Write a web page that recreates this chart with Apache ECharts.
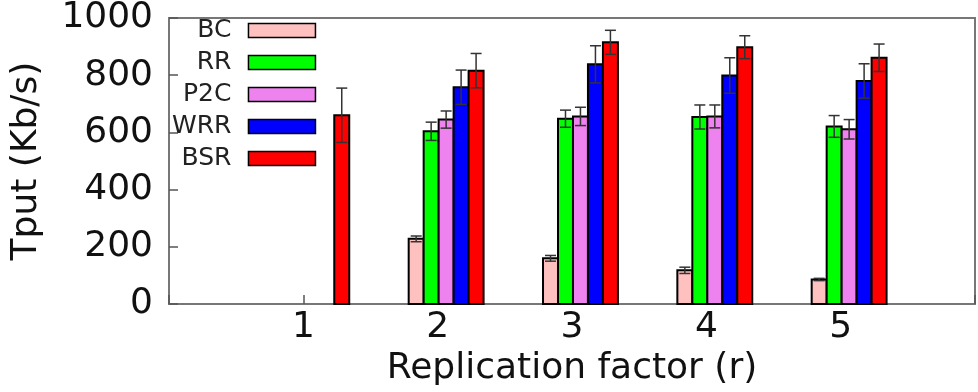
<!DOCTYPE html>
<html>
<head>
<meta charset="utf-8">
<script src="https://cdn.jsdelivr.net/npm/echarts@6/dist/echarts.min.js"></script>
<style>
html,body{margin:0;padding:0;background:#fff;}
#chart{width:978px;height:392px;}
</style>
</head>
<body>
<div id="chart"></div>
<script>
// Replication factor categories
const categories = [1, 2, 3, 4, 5];
const seriesNames = ['BC', 'RR', 'P2C', 'WRR', 'BSR'];
// Throughput means (Kb/s)
const BC  = [null, 228, 160, 118, 86];
const RR  = [null, 604, 648, 654, 621];
const P2C = [null, 645, 656, 656, 611];
const WRR = [null, 758, 838, 799, 780];
const BSR = [660, 816, 915, 898, 861];
// Error bar half-widths (Kb/s)
const BC_err  = [null, 10, 10, 11, 4];
const RR_err  = [null, 32, 30, 42, 38];
const P2C_err = [null, 30, 32, 40, 34];
const WRR_err = [null, 60, 65, 62, 60];
const BSR_err = [95, 60, 42, 40, 48];
// Y tick labels
const yTicks = [0, 200, 400, 600, 800, 1000];

const values = [BC, RR, P2C, WRR, BSR];
const errors = [BC_err, RR_err, P2C_err, WRR_err, BSR_err];
const colors = ['#ffc0c0', '#00ff00', '#ee82ee', '#0000ff', '#ff0000'];
const barW = 0.1115;
const offsets = seriesNames.map((_, j) => -0.16 + j * barW);
const FONT = 'DejaVu Sans';

const series = [];
seriesNames.forEach((name, j) => {
  const data = categories.map((c, i) => [c, values[j][i], errors[j][i]]).filter(d => d[1] != null);
  series.push({
    name: name,
    type: 'custom',
    itemStyle: {color: colors[j]},
    encode: {x: 0, y: 1},
    data: data,
    renderItem: function (params, api) {
      const x = api.value(0) + offsets[j];
      const v = api.value(1);
      const top = api.coord([x, v]);
      const base = api.coord([x, 0]);
      const w = api.size([barW, 0])[0];
      return {
        type: 'rect',
        shape: {x: top[0] - w / 2, y: top[1], width: w, height: base[1] - top[1]},
        style: {fill: colors[j], stroke: '#000', lineWidth: 2}
      };
    },
    z: 2
  });
  series.push({
    name: name + '_err',
    type: 'custom',
    encode: {x: 0, y: 1},
    data: data,
    renderItem: function (params, api) {
      const x = api.value(0) + offsets[j];
      const v = api.value(1);
      const e = api.value(2);
      const hi = api.coord([x, v + e]);
      const lo = api.coord([x, v - e]);
      const cw = 5.5;
      const st = {stroke: '#333', lineWidth: 1.5};
      return {
        type: 'group',
        children: [
          {type: 'line', shape: {x1: hi[0], y1: hi[1], x2: lo[0], y2: lo[1]}, style: st},
          {type: 'line', shape: {x1: hi[0] - cw, y1: hi[1], x2: hi[0] + cw, y2: hi[1]}, style: st},
          {type: 'line', shape: {x1: lo[0] - cw, y1: lo[1], x2: lo[0] + cw, y2: lo[1]}, style: st}
        ]
      };
    },
    z: 3
  });
});

const chart = echarts.init(document.getElementById('chart'), null, {renderer: 'canvas'});
chart.setOption({
  animation: false,
  backgroundColor: '#fff',
  textStyle: {fontFamily: FONT},
  grid: {left: 169, right: 2, top: 15, bottom: 84, show: true, borderColor: '#777', borderWidth: 2, backgroundColor: 'transparent'},
  legend: {
    data: seriesNames.map((n, j) => ({name: n, icon: 'rect', itemStyle: {color: colors[j], borderColor: '#000', borderWidth: 1.5}})),
    orient: 'vertical',
    align: 'right',
    left: 172,
    top: 18,
    padding: 0,
    itemWidth: 67,
    itemHeight: 14,
    itemGap: 7,
    selectedMode: false,
    textStyle: {fontFamily: FONT, fontSize: 25, color: '#222', padding: [0, 12, 0, 0]}
  },
  xAxis: {
    type: 'value',
    min: 0,
    max: 6,
    interval: 1,
    splitLine: {show: false},
    axisLine: {show: true, lineStyle: {color: '#777', width: 2}},
    axisTick: {show: true, inside: true, length: 9, lineStyle: {color: '#555', width: 1.5}},
    axisLabel: {
      fontFamily: FONT, fontSize: 36, color: '#111', margin: 6,
      formatter: function (v) { return categories.indexOf(v) >= 0 ? String(v) : ''; }
    },
    name: 'Replication factor (r)',
    nameLocation: 'middle',
    nameGap: 42,
    nameTextStyle: {fontFamily: FONT, fontSize: 36, color: '#111'}
  },
  yAxis: {
    type: 'value',
    min: 0,
    max: 1000,
    interval: 200,
    splitLine: {show: false},
    axisLine: {show: true, lineStyle: {color: '#777', width: 2}},
    axisTick: {show: true, inside: true, length: 9, lineStyle: {color: '#555', width: 1.5}},
    axisLabel: {
      fontFamily: FONT, fontSize: 36, color: '#111', margin: 16,
      formatter: function (v) { return yTicks.indexOf(v) >= 0 ? String(v) : ''; }
    },
    name: 'Tput (Kb/s)',
    nameLocation: 'middle',
    nameGap: 124,
    nameRotate: 90,
    nameTextStyle: {fontFamily: FONT, fontSize: 36, color: '#111'}
  },
  series: series
});
</script>
</body>
</html>
